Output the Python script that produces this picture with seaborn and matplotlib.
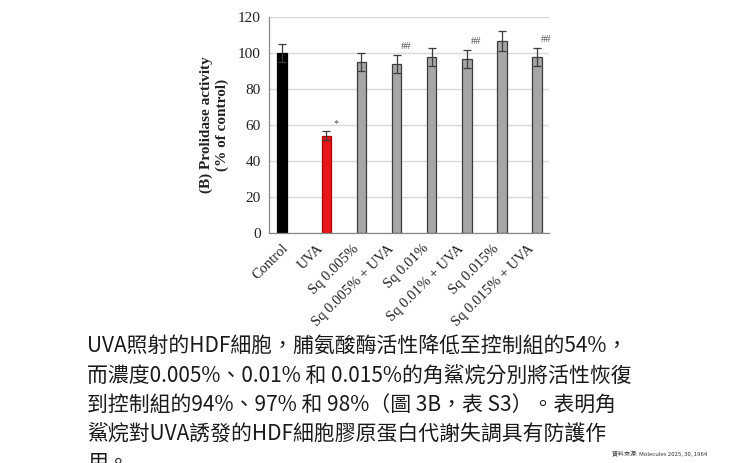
import matplotlib
matplotlib.use("Agg")
import matplotlib.pyplot as plt
import matplotlib.transforms as mtransforms
import seaborn as sns
import pandas as pd
import numpy as np

# ---- data ----
categories = ["Control", "UVA", "Sq 0.005%", "Sq 0.005% + UVA",
              "Sq 0.01%", "Sq 0.01% + UVA", "Sq 0.015%", "Sq 0.015% + UVA"]
values = [100, 54, 95, 94, 98, 97, 107, 98]
errors = [5, 2.5, 5, 5, 5, 5, 5.5, 5]
groups = ["ctrl", "trt", "trt", "trt", "trt", "trt", "trt", "trt"]
bar_colors = ["#000000", "#e8161b", "#a6a6a6", "#a6a6a6",
              "#a6a6a6", "#a6a6a6", "#a6a6a6", "#a6a6a6"]
edge_colors = ["#000000", "#b00000", "#3c3c3c", "#3c3c3c",
               "#3c3c3c", "#3c3c3c", "#3c3c3c", "#3c3c3c"]
marks = ["", "*", "", "##", "", "##", "", "##"]
mark_y = [0, 61, 0, 104, 0, 106.5, 0, 107.5]
y_ticks = [0, 20, 40, 60, 80, 100, 120]

caption_lines = [
    "UVA照射的HDF細胞，脯氨酸酶活性降低至控制組的54%，",
    "而濃度0.005%、0.01% 和 0.015%的角鯊烷分別將活性恢復",
    "到控制組的94%、97% 和 98%（圖 3B，表 S3）。表明角",
    "鯊烷對UVA誘發的HDF細胞膠原蛋白代謝失調具有防護作",
    "用。",
]
source_text = "資料來源: Molecules 2025, 30, 1964"

df = pd.DataFrame({"category": categories, "value": values, "group": groups})

sns.set_style("white")
plt.rcParams["font.family"] = ["Liberation Serif", "DejaVu Serif"]

W, H = 740, 463
fig = plt.figure(figsize=(W / 100, H / 100), dpi=100)
ax = fig.add_axes([269 / W, 1 - 232.7 / H, 280.3 / W, 215.4 / H])

sns.barplot(data=df, x="category", y="value", hue="group", order=categories,
            hue_order=["ctrl", "trt"], dodge=True, width=0.56, gap=0,
            palette={"ctrl": "#000000", "trt": "#a6a6a6"}, legend=False,
            errorbar=None, ax=ax, zorder=2, linewidth=0.9)

# recolour bars per category and add error bars at the library's bar positions
centers = {}
for cont in ax.containers:
    for patch in cont.patches:
        cx = patch.get_x() + patch.get_width() / 2
        idx = int(round(cx))
        centers[idx] = cx
        patch.set_facecolor(bar_colors[idx])
        patch.set_edgecolor(edge_colors[idx])

xs = [centers[i] for i in range(len(categories))]
ax.errorbar(xs, values, yerr=errors, fmt="none", ecolor="#3c3c3c",
            elinewidth=0.9, capsize=3.2, capthick=0.9, zorder=3)

for i, (m, my) in enumerate(zip(marks, mark_y)):
    if m:
        ax.text(xs[i] + 0.27, my, m, ha="center", va="center",
                fontsize=7.5, color="#555555")

ax.set_ylim(0, 120)
ax.set_xlim(-0.5, len(categories) - 0.5)
ax.set_yticks(y_ticks)
ax.set_yticklabels([str(t) for t in y_ticks], fontsize=11, color="#222222")
ax.yaxis.grid(True, color="#d9d9d9", linewidth=1, zorder=0)
ax.set_axisbelow(True)

ax.set_xticks(range(len(categories)))
ax.set_xticklabels(categories, rotation=45, ha="right", va="center",
                   rotation_mode="anchor", fontsize=10.5, color="#222222")
offset = mtransforms.ScaledTranslation(4 / 100, 0, fig.dpi_scale_trans)
for lab in ax.get_xticklabels():
    lab.set_transform(lab.get_transform() + offset)
ax.set_xticks(np.arange(-0.5, len(categories)), minor=True)
ax.tick_params(axis="x", which="major", length=0, pad=10)
ax.tick_params(axis="x", which="minor", length=3.5, width=0.8,
               color="#888888", direction="out")
ax.tick_params(axis="y", length=4, width=0.8, color="#888888",
               direction="out", pad=2)

for s in ["top", "right"]:
    ax.spines[s].set_visible(False)
for s in ["left", "bottom"]:
    ax.spines[s].set_color("#888888")
    ax.spines[s].set_linewidth(0.9)

ax.set_xlabel("")
ax.set_ylabel("(B) Prolidase activity\n(% of control)", fontsize=11,
              fontweight="bold", color="#222222", linespacing=1.25, labelpad=6)

cjk = ["Noto Sans CJK TC", "DejaVu Sans"]
line_y = [346.7, 376.5, 405.5, 435, 463]
for txt, yy in zip(caption_lines, line_y):
    fig.text(87 / W, 1 - yy / H, txt, family=cjk, fontsize=15,
             color="#1a1a1a", ha="left", va="center")

fig.text(611.7 / W, 1 - 454 / H, source_text, family=cjk, fontsize=4.3,
         color="#333333", ha="left", va="center")

fig.savefig("out.png", dpi=100)
